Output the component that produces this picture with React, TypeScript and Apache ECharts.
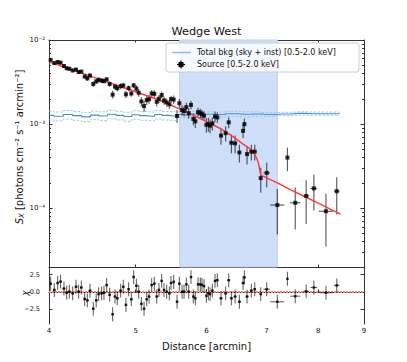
import React, { useEffect, useRef } from 'react';
import * as echarts from 'echarts';

const titleText = 'Wedge West';
const bkgName = 'Total bkg (sky + inst) [0.5-2.0 keV]';
const srcName = 'Source [0.5-2.0 keV]';
const xLabel = 'Distance [arcmin]';

const xTicks = [4, 5, 6, 7, 8, 9];
const yMajorTicks = [1e-4, 1e-3, 1e-2];
const yMinorTicks = [
  2e-5, 3e-5, 4e-5, 5e-5, 6e-5, 7e-5, 8e-5, 9e-5,
  2e-4, 3e-4, 4e-4, 5e-4, 6e-4, 7e-4, 8e-4, 9e-4,
  2e-3, 3e-3, 4e-3, 5e-3, 6e-3, 7e-3, 8e-3, 9e-3,
];
const chiTicks = [-2.5, 0, 2.5];
const shadeRange = [5.6, 7.2];

const srcX = [
  4.017, 4.055, 4.09, 4.121, 4.157, 4.186, 4.215, 4.251, 4.288, 4.317,
  4.347, 4.385, 4.415, 4.445, 4.483, 4.517, 4.545, 4.58, 4.608, 4.64,
  4.676, 4.712, 4.741, 4.769, 4.81, 4.843, 4.876, 4.91, 4.944, 4.974,
  5.009, 5.039, 5.074, 5.109, 5.144, 5.175, 5.21, 5.246, 5.278, 5.309,
  5.346, 5.378, 5.415, 5.453, 5.476, 5.514, 5.562, 5.595, 5.634, 5.663,
  5.697, 5.731, 5.765, 5.8, 5.83, 5.871, 5.906, 5.931, 5.962, 5.998,
  6.029, 6.055, 6.091, 6.133, 6.17, 6.228, 6.303, 6.353, 6.397, 6.458,
  6.53, 6.592, 6.615, 6.66, 6.734, 6.793, 6.899, 7.006, 7.2, 7.39,
  7.54, 7.755, 7.91, 8.16, 8.39,
];
const srcY = [
  5.8e-3, 5.32e-3, 5.47e-3, 5.37e-3, 4.91e-3, 4.62e-3, 4.55e-3, 4.35e-3, 4.45e-3, 4.16e-3,
  4.21e-3, 3.68e-3, 3.5e-3, 3.78e-3, 3.0e-3, 3.22e-3, 3.36e-3, 3.29e-3, 3.25e-3, 3.4e-3,
  3.0e-3, 2.24e-3, 2.79e-3, 2.67e-3, 2.83e-3, 2.88e-3, 2.26e-3, 2.67e-3, 2.31e-3, 2.89e-3,
  2.64e-3, 2.36e-3, 1.86e-3, 1.64e-3, 1.93e-3, 1.98e-3, 2.31e-3, 2.29e-3, 1.84e-3, 2.0e-3,
  2.22e-3, 1.91e-3, 1.81e-3, 1.72e-3, 1.98e-3, 1.96e-3, 1.25e-3, 1.77e-3, 1.47e-3, 1.43e-3,
  1.59e-3, 1.35e-3, 1.69e-3, 1.15e-3, 1.08e-3, 1.39e-3, 1.35e-3, 1.31e-3, 1.26e-3, 9.8e-4,
  1.0e-3, 9.6e-4, 1.02e-3, 1.23e-3, 1.2e-3, 7.3e-4, 7.8e-4, 1.05e-3, 6.0e-4, 5.9e-4,
  4.6e-4, 8.3e-4, 1.0e-3, 4.4e-4, 4.7e-4, 4.7e-4, 2.28e-4, 2.63e-4, 1.09e-4, 4.0e-4,
  1.16e-4, 1.4e-4, 1.72e-4, 9.2e-5, 1.59e-4,
];
const srcYErr = [
  2.9e-4, 2.7e-4, 2.7e-4, 2.7e-4, 2.5e-4, 2.4e-4, 2.4e-4, 2.3e-4, 2.3e-4, 2.2e-4,
  2.2e-4, 2.1e-4, 2.4e-4, 2.5e-4, 2.3e-4, 2.3e-4, 2.3e-4, 2.3e-4, 2.3e-4, 2.3e-4,
  2.2e-4, 2.3e-4, 2.3e-4, 2.3e-4, 2.3e-4, 2.3e-4, 2.1e-4, 2.1e-4, 2.0e-4, 2.0e-4,
  2.6e-4, 2.5e-4, 2.4e-4, 2.4e-4, 2.4e-4, 2.3e-4, 2.3e-4, 2.3e-4, 2.2e-4, 2.2e-4,
  2.1e-4, 2.1e-4, 2.0e-4, 2.0e-4, 2.0e-4, 2.3e-4, 2.2e-4, 2.2e-4, 2.1e-4, 2.0e-4,
  2.0e-4, 1.9e-4, 1.9e-4, 1.8e-4, 1.8e-4, 1.7e-4, 1.7e-4, 1.6e-4, 1.6e-4, 1.9e-4,
  1.9e-4, 1.8e-4, 1.8e-4, 1.8e-4, 1.7e-4, 1.6e-4, 1.6e-4, 1.6e-4, 1.5e-4, 1.4e-4,
  1.1e-4, 1.5e-4, 1.6e-4, 1.1e-4, 1.0e-4, 1.0e-4, 7.5e-5, 8.5e-5, 6.0e-5, 1.25e-4,
  6.0e-5, 7.5e-5, 7.8e-5, 5.7e-5, 7.5e-5,
];
const srcXErr = [
  0.015, 0.015, 0.015, 0.015, 0.015, 0.015, 0.015, 0.015, 0.015, 0.015,
  0.015, 0.015, 0.015, 0.015, 0.015, 0.015, 0.015, 0.015, 0.015, 0.015,
  0.015, 0.015, 0.015, 0.015, 0.015, 0.015, 0.015, 0.015, 0.015, 0.015,
  0.015, 0.015, 0.015, 0.015, 0.015, 0.015, 0.015, 0.015, 0.015, 0.015,
  0.015, 0.015, 0.015, 0.015, 0.015, 0.015, 0.015, 0.015, 0.015, 0.015,
  0.015, 0.015, 0.015, 0.015, 0.015, 0.015, 0.015, 0.015, 0.015, 0.015,
  0.015, 0.015, 0.015, 0.015, 0.015, 0.025, 0.025, 0.025, 0.025, 0.025,
  0.025, 0.025, 0.025, 0.025, 0.025, 0.025, 0.02, 0.06, 0.13, 0.01,
  0.1, 0.06, 0.07, 0.15, 0.06,
];
const chiValues = [
  1.2, 0.3, 1.3, 1.5, 0.5, -0.1, 0.05, -0.2, 0.75, 0.05,
  0.65, -1.0, -1.2, 0.2, -2.4, -1.2, -0.3, -0.2, -0.1, 1.0,
  -0.4, -3.2, -0.65, -0.9, 0.2, 0.75, -1.85, 0.4, -1.05, 2.15,
  0.9, 0.05, -1.7, -2.4, -1.05, -0.65, 1.0, 1.2, -0.65, 0.3,
  1.6, 0.3, 0.05, -0.2, 1.3, 1.45, -1.4, 1.2, 0.05, 0.05,
  1.1, 0.05, 2.15, -0.65, -0.9, 1.1, 1.1, 1.0, 0.85, -0.55,
  -0.2, -0.3, 0.2, 1.6, 1.7, -0.9, -0.2, 1.7, -0.9, -0.65,
  -1.4, 1.3, 2.1, -0.65, 0.2, 0.4, -0.3, 0.4, -1.4, 1.9,
  -0.6, 0.1, 0.65, -0.1, 0.95,
];

const modelX = [4.0, 4.5, 5.0, 5.3, 5.5, 5.8, 6.0, 6.2, 6.4, 6.6, 6.7, 6.78, 6.83, 6.86, 6.88, 6.9, 7.2, 7.5, 8.0, 8.47];
const modelY = [5.5e-3, 3.57e-3, 2.42e-3, 1.95e-3, 1.65e-3, 1.27e-3, 1.07e-3, 9.0e-4, 7.3e-4, 5.75e-4, 5.15e-4, 4.5e-4, 3.9e-4, 3.4e-4, 2.9e-4, 2.47e-4, 2.0e-4, 1.6e-4, 1.15e-4, 8.5e-5];

const bkgX = [4.0, 4.1, 4.2, 4.3, 4.4, 4.5, 4.6, 4.7, 4.8, 4.9, 5.0, 5.1, 5.2, 5.3, 5.4, 5.5, 5.6, 5.7, 5.8, 5.9, 6.0, 6.2, 6.4, 6.6, 6.8, 7.0, 7.3, 7.6, 7.9, 8.2, 8.45];
const bkgY = [1.27e-3, 1.24e-3, 1.3e-3, 1.26e-3, 1.22e-3, 1.28e-3, 1.25e-3, 1.31e-3, 1.27e-3, 1.23e-3, 1.29e-3, 1.26e-3, 1.24e-3, 1.3e-3, 1.27e-3, 1.25e-3, 1.3e-3, 1.28e-3, 1.32e-3, 1.29e-3, 1.31e-3, 1.3e-3, 1.33e-3, 1.31e-3, 1.32e-3, 1.3e-3, 1.32e-3, 1.34e-3, 1.33e-3, 1.33e-3, 1.33e-3];
const bkgHi = [1.42e-3, 1.39e-3, 1.45e-3, 1.41e-3, 1.37e-3, 1.43e-3, 1.4e-3, 1.46e-3, 1.42e-3, 1.38e-3, 1.44e-3, 1.41e-3, 1.39e-3, 1.45e-3, 1.42e-3, 1.4e-3, 1.4e-3, 1.37e-3, 1.41e-3, 1.38e-3, 1.4e-3, 1.39e-3, 1.42e-3, 1.4e-3, 1.4e-3, 1.37e-3, 1.38e-3, 1.4e-3, 1.39e-3, 1.39e-3, 1.39e-3];
const bkgLo = [1.12e-3, 1.09e-3, 1.15e-3, 1.11e-3, 1.07e-3, 1.13e-3, 1.1e-3, 1.16e-3, 1.12e-3, 1.08e-3, 1.14e-3, 1.11e-3, 1.09e-3, 1.15e-3, 1.12e-3, 1.1e-3, 1.2e-3, 1.19e-3, 1.23e-3, 1.2e-3, 1.22e-3, 1.21e-3, 1.24e-3, 1.22e-3, 1.24e-3, 1.23e-3, 1.26e-3, 1.28e-3, 1.27e-3, 1.27e-3, 1.27e-3];

const FONT = 'DejaVu Sans';
const AXIS_COLOR = '#333333';
const BKG_COLOR = '#4a8bcb';
const BAND_COLOR = '#98c2ea';

const supMap: Record<string, string> = {
  '-': '\u207b', '0': '\u2070', '1': '\u00b9', '2': '\u00b2', '3': '\u00b3',
  '4': '\u2074', '5': '\u2075', '6': '\u2076', '7': '\u2077', '8': '\u2078', '9': '\u2079',
};
const sup = (s: string) => s.split('').map((c) => supMap[c] || c).join('');

function errRender(color: string, lw: number) {
  return (params: any, api: any) => {
    const x = api.value(0);
    const y = api.value(1);
    const xe = api.value(2);
    const ye = api.value(3);
    const lo = api.coord([x, y - ye]);
    const hi = api.coord([x, y + ye]);
    const l = api.coord([x - xe, y]);
    const r = api.coord([x + xe, y]);
    return {
      type: 'group',
      children: [
        { type: 'line', shape: { x1: lo[0], y1: lo[1], x2: hi[0], y2: hi[1] }, style: { stroke: color, lineWidth: lw } },
        { type: 'line', shape: { x1: l[0], y1: l[1], x2: r[0], y2: r[1] }, style: { stroke: color, lineWidth: lw } },
      ],
    };
  };
}

const App: React.FC = () => {
  const ref = useRef<HTMLDivElement>(null);

  useEffect(() => {
    if (!ref.current) return;
    const chart = echarts.init(ref.current, undefined, { renderer: 'svg' });

    const srcData = srcX.map((x, i) => [x, srcY[i], srcXErr[i], srcYErr[i]]);
    const resData = srcX.map((x, i) => [x, chiValues[i], srcXErr[i], 1]);
    const modelData = modelX.map((x, i) => [x, modelY[i]]);
    const bkgData = bkgX.map((x, i) => [x, bkgY[i]]);
    const bkgHiData = bkgX.map((x, i) => [x, bkgHi[i]]);
    const bkgLoData = bkgX.map((x, i) => [x, bkgLo[i]]);

    const tickLabelStyle = { fontFamily: FONT, fontSize: 6.5, color: '#111' };
    const axisLineStyle = { lineStyle: { color: AXIS_COLOR, width: 1 } };

    const mainGrid = { left: 49, top: 40, width: 315, height: 227 };
    const resGrid = { left: 49, top: 267, width: 315, height: 57 };

    const legendZ = 100;

    const option: any = {
      animation: false,
      backgroundColor: '#ffffff',
      title: {
        text: titleText,
        left: 206.5,
        textAlign: 'center',
        top: 26,
        padding: 0,
        textStyle: { fontFamily: FONT, fontSize: 11.3, fontWeight: 'normal', color: '#111' },
      },
      grid: [mainGrid, resGrid],
      xAxis: [
        {
          type: 'log', gridIndex: 0, min: 4, max: 9, position: 'bottom',
          axisLine: axisLineStyle,
          axisTick: { inside: true, length: 2.5, customValues: xTicks, lineStyle: { color: AXIS_COLOR } },
          axisLabel: { show: false },
          splitLine: { show: false },
        },
        {
          type: 'log', gridIndex: 0, min: 4, max: 9, position: 'top',
          axisLine: axisLineStyle,
          axisTick: { inside: true, length: 2.5, customValues: xTicks, lineStyle: { color: AXIS_COLOR } },
          axisLabel: { show: false },
          splitLine: { show: false },
        },
        {
          type: 'log', gridIndex: 1, min: 4, max: 9, position: 'bottom',
          axisLine: axisLineStyle,
          axisTick: { inside: true, length: 2.5, customValues: xTicks, lineStyle: { color: AXIS_COLOR } },
          axisLabel: { ...tickLabelStyle, fontSize: 7, customValues: xTicks, margin: 3, formatter: (v: number) => String(Math.round(v)) },
          splitLine: { show: false },
          name: xLabel,
          nameLocation: 'middle',
          nameGap: 17,
          nameTextStyle: { fontFamily: FONT, fontSize: 10, color: '#111' },
        },
      ],
      yAxis: [
        {
          type: 'log', gridIndex: 0, min: 2e-5, max: 1e-2, position: 'left',
          axisLine: axisLineStyle,
          axisTick: { inside: true, length: 3.5, customValues: yMajorTicks, lineStyle: { color: AXIS_COLOR } },
          axisLabel: {
            ...tickLabelStyle, fontSize: 7, customValues: yMajorTicks, margin: 4,
            formatter: (v: number) => '10' + sup(String(Math.round(Math.log10(v)))),
          },
          splitLine: { show: false },
        },
        {
          type: 'log', gridIndex: 0, min: 2e-5, max: 1e-2, position: 'right',
          axisLine: axisLineStyle,
          axisTick: { inside: true, length: 3.5, customValues: yMajorTicks, lineStyle: { color: AXIS_COLOR } },
          axisLabel: { show: false },
          splitLine: { show: false },
        },
        {
          type: 'log', gridIndex: 0, min: 2e-5, max: 1e-2, position: 'left',
          axisLine: { show: false },
          axisTick: { inside: true, length: 2, customValues: yMinorTicks, lineStyle: { color: AXIS_COLOR } },
          axisLabel: { show: false },
          splitLine: { show: false },
        },
        {
          type: 'log', gridIndex: 0, min: 2e-5, max: 1e-2, position: 'right',
          axisLine: { show: false },
          axisTick: { inside: true, length: 2, customValues: yMinorTicks, lineStyle: { color: AXIS_COLOR } },
          axisLabel: { show: false },
          splitLine: { show: false },
        },
        {
          type: 'value', gridIndex: 1, min: -4.6, max: 3.6, position: 'left',
          axisLine: axisLineStyle,
          axisTick: { inside: true, length: 3.5, customValues: chiTicks, lineStyle: { color: AXIS_COLOR } },
          axisLabel: {
            ...tickLabelStyle, customValues: chiTicks, margin: 9,
            formatter: (v: number) => v.toFixed(1).replace('-', '\u2212'),
          },
          splitLine: { show: false },
        },
        {
          type: 'value', gridIndex: 1, min: -4.6, max: 3.6, position: 'right',
          axisLine: axisLineStyle,
          axisTick: { inside: true, length: 3.5, customValues: chiTicks, lineStyle: { color: AXIS_COLOR } },
          axisLabel: { show: false },
          splitLine: { show: false },
        },
      ],
      series: [
        {
          type: 'line', xAxisIndex: 0, yAxisIndex: 0, data: bkgHiData, step: 'middle',
          symbol: 'none', lineStyle: { color: BAND_COLOR, width: 0.9, type: [2.5, 1.5] }, z: 2,
          markArea: {
            silent: true,
            z: 1,
            itemStyle: { color: '#d0dff9', borderColor: '#b9cff3', borderWidth: 1 },
            data: [[{ xAxis: shadeRange[0] }, { xAxis: shadeRange[1] }]],
          },
        },
        {
          type: 'line', xAxisIndex: 0, yAxisIndex: 0, data: bkgLoData, step: 'middle',
          symbol: 'none', lineStyle: { color: BAND_COLOR, width: 0.9, type: [2.5, 1.5] }, z: 2,
        },
        {
          name: bkgName, type: 'line', xAxisIndex: 0, yAxisIndex: 0, data: bkgData, step: 'middle',
          symbol: 'none', lineStyle: { color: BKG_COLOR, width: 1.1 }, z: 3,
        },
        {
          type: 'custom', xAxisIndex: 0, yAxisIndex: 0, data: srcData,
          renderItem: errRender('rgba(0,0,0,0.62)', 1.2), encode: { x: 0, y: 1 }, z: 4, clip: true,
        },
        {
          type: 'line', xAxisIndex: 0, yAxisIndex: 0, data: modelData, symbol: 'none',
          lineStyle: { color: '#ff3b3b', width: 1.5 }, z: 5,
        },
        {
          name: srcName, type: 'scatter', xAxisIndex: 0, yAxisIndex: 0,
          data: srcData.map((d) => [d[0], d[1]]), symbol: 'rect', symbolSize: 4,
          itemStyle: { color: '#000' }, z: 6,
        },
        {
          type: 'line', xAxisIndex: 2, yAxisIndex: 4, data: [[4, 0], [9, 0]], symbol: 'none',
          lineStyle: { color: '#ff8080', width: 1.8, type: [2, 1] }, z: 2,
        },
        {
          type: 'custom', xAxisIndex: 2, yAxisIndex: 4, data: resData,
          renderItem: errRender('rgba(0,0,0,0.6)', 1.1), encode: { x: 0, y: 1 }, z: 4, clip: true,
        },
        {
          type: 'scatter', xAxisIndex: 2, yAxisIndex: 4,
          data: resData.map((d) => [d[0], d[1]]), symbol: 'rect', symbolSize: 2.5,
          itemStyle: { color: '#000' }, z: 6,
        },
      ],
      graphic: [
        {
          type: 'text', x: 19, y: 147, rotation: Math.PI / 2, z: 10,
          style: {
            text: '{i|S}{s|X} [photons cm\u207b\u00b2 s\u207b\u00b9 arcmin\u207b\u00b2]',
            fontFamily: FONT, fontSize: 10, fill: '#111', align: 'center', verticalAlign: 'middle',
            rich: {
              i: { fontFamily: FONT, fontSize: 10, fontStyle: 'italic', fill: '#111' },
              s: { fontFamily: FONT, fontSize: 7, fontStyle: 'italic', fill: '#111', padding: [5, 0, 0, 0] },
            },
          },
        },
        {
          type: 'text', x: 25, y: 293, rotation: Math.PI / 2, z: 10,
          style: {
            text: '\u03c7', fontFamily: FONT, fontSize: 9, fontStyle: 'italic', fill: '#111',
            align: 'center', verticalAlign: 'middle',
          },
        },
        {
          type: 'rect', z: legendZ, shape: { x: 166, y: 43, width: 193, height: 29, r: 2 },
          style: { fill: 'rgba(255,255,255,0.8)', stroke: '#cccccc', lineWidth: 1 },
        },
        {
          type: 'line', z: legendZ + 1, shape: { x1: 172, y1: 52.5, x2: 191, y2: 52.5 },
          style: { stroke: '#8dbde6', lineWidth: 1.5 },
        },
        {
          type: 'text', z: legendZ + 1, x: 197, y: 52.5,
          style: { text: bkgName, fontFamily: FONT, fontSize: 8, fill: '#111', verticalAlign: 'middle' },
        },
        {
          type: 'line', z: legendZ + 1, shape: { x1: 177, y1: 64.5, x2: 185, y2: 64.5 },
          style: { stroke: '#000', lineWidth: 1.2 },
        },
        {
          type: 'line', z: legendZ + 1, shape: { x1: 181, y1: 60.5, x2: 181, y2: 68.5 },
          style: { stroke: '#000', lineWidth: 1.2 },
        },
        {
          type: 'rect', z: legendZ + 1, shape: { x: 178.5, y: 62, width: 5, height: 5 },
          style: { fill: '#000' },
        },
        {
          type: 'text', z: legendZ + 1, x: 197, y: 64.5,
          style: { text: srcName, fontFamily: FONT, fontSize: 8, fill: '#111', verticalAlign: 'middle' },
        },
      ],
    };

    chart.setOption(option);
    return () => chart.dispose();
  }, []);

  return (
    <div
      ref={ref}
      style={{ position: 'absolute', left: 0, top: 0, width: 407, height: 362 }}
    />
  );
};

export default App;
